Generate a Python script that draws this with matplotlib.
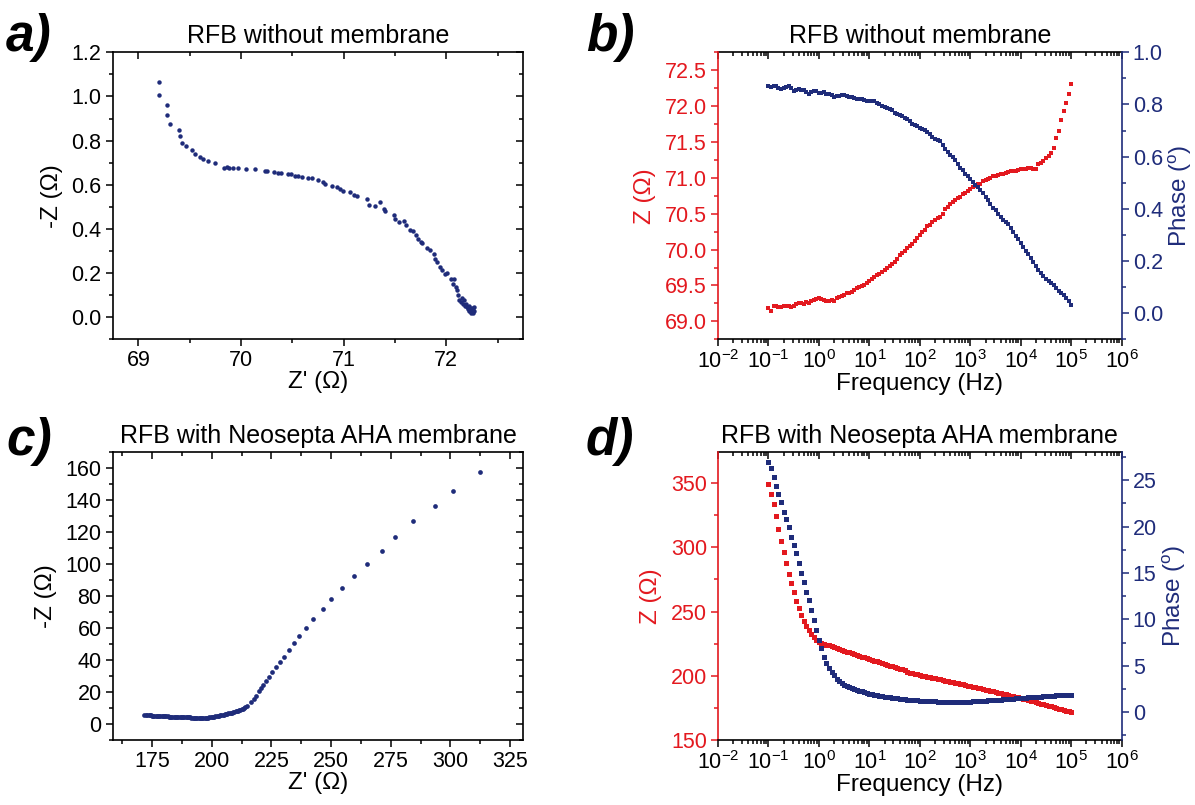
import numpy as np
import matplotlib
matplotlib.use('Agg')
import matplotlib.pyplot as plt
from matplotlib.ticker import MultipleLocator, LogLocator, NullFormatter

plt.rcParams['font.family'] = ['Liberation Sans', 'DejaVu Sans']
plt.rcParams['mathtext.fontset'] = 'custom'
plt.rcParams['mathtext.rm'] = 'Liberation Sans'
plt.rcParams['mathtext.it'] = 'Liberation Sans:italic'
plt.rcParams['mathtext.bf'] = 'Liberation Sans:bold'

# ---------------- data ----------------
# Panel a: Nyquist, RFB without membrane
A_ZRE = [69.200, 69.203, 69.275, 69.282, 69.311, 69.396, 69.403, 69.429, 69.468, 69.527,
         69.553, 69.599, 69.625, 69.674, 69.749, 69.837, 69.860, 69.880, 69.925, 69.968,
         70.050, 70.141, 70.229, 70.252, 70.318, 70.360, 70.393, 70.458, 70.491, 70.530,
         70.556, 70.599, 70.654, 70.687, 70.752, 70.795, 70.818, 70.883, 70.932, 70.965,
         70.997, 71.063, 71.102, 71.128, 71.226, 71.242, 71.308, 71.350, 71.390, 71.406,
         71.494, 71.504, 71.537, 71.586, 71.612, 71.651, 71.677, 71.700, 71.723, 71.749,
         71.765, 71.808, 71.841, 71.880, 71.886, 71.912, 71.939, 71.961, 71.984, 72.004,
         72.050, 72.076, 72.069, 72.092, 72.108, 72.115, 72.125,
         72.14, 72.16, 72.15, 72.17, 72.18, 72.19, 72.20, 72.21, 72.22, 72.22,
         72.23, 72.24, 72.24, 72.25, 72.26, 72.26, 72.27, 72.27]
A_ZIM = [1.064, 1.008, 0.961, 0.917, 0.876, 0.847, 0.820, 0.791, 0.775, 0.756,
         0.741, 0.725, 0.717, 0.708, 0.699, 0.675, 0.679, 0.675, 0.675, 0.675,
         0.672, 0.670, 0.664, 0.661, 0.659, 0.655, 0.655, 0.649, 0.647, 0.641,
         0.640, 0.634, 0.629, 0.629, 0.622, 0.611, 0.603, 0.596, 0.588, 0.579,
         0.573, 0.565, 0.555, 0.549, 0.535, 0.508, 0.505, 0.523, 0.488, 0.482,
         0.462, 0.447, 0.432, 0.437, 0.417, 0.397, 0.391, 0.372, 0.356, 0.341,
         0.334, 0.314, 0.306, 0.285, 0.265, 0.250, 0.228, 0.213, 0.194, 0.200,
         0.175, 0.175, 0.152, 0.137, 0.122, 0.099, 0.076,
         0.071, 0.060, 0.085, 0.080, 0.051, 0.062, 0.045, 0.036, 0.026, 0.050,
         0.030, 0.041, 0.021, 0.033, 0.018, 0.040, 0.045, 0.028]

# Frequencies of the impedance sweep (Hz)
FREQ_HZ = [
    0.100, 0.112, 0.126, 0.141, 0.158, 0.178, 0.200, 0.224, 0.251, 0.282,
    0.316, 0.355, 0.398, 0.447, 0.501, 0.562, 0.631, 0.708, 0.794, 0.891,
    1.00, 1.12, 1.26, 1.41, 1.58, 1.78, 2.00, 2.24, 2.51, 2.82,
    3.16, 3.55, 3.98, 4.47, 5.01, 5.62, 6.31, 7.08, 7.94, 8.91,
    10.0, 11.2, 12.6, 14.1, 15.8, 17.8, 20.0, 22.4, 25.1, 28.2,
    31.6, 35.5, 39.8, 44.7, 50.1, 56.2, 63.1, 70.8, 79.4, 89.1,
    100, 112, 126, 141, 158, 178, 200, 224, 251, 282,
    316, 355, 398, 447, 501, 562, 631, 708, 794, 891,
    1000, 1120, 1260, 1410, 1580, 1780, 2000, 2240, 2510, 2820,
    3160, 3550, 3980, 4470, 5010, 5620, 6310, 7080, 7940, 8910,
    10000, 11200, 12600, 14100, 15800, 17800, 20000, 22400, 25100, 28200,
    31600, 35500, 39800, 44700, 50100, 56200, 63100, 70800, 79400, 89100,
    100000]

# Panel b: Bode, RFB without membrane
B_Z = [69.18, 69.15, 69.22, 69.21, 69.20, 69.20, 69.21, 69.22, 69.21, 69.20,
       69.22, 69.24, 69.25, 69.25, 69.24, 69.27, 69.26, 69.29, 69.30, 69.31,
       69.33, 69.31, 69.30, 69.29, 69.28, 69.30, 69.29, 69.32, 69.34, 69.36,
       69.37, 69.39, 69.40, 69.41, 69.44, 69.46, 69.48, 69.49, 69.51, 69.53,
       69.56, 69.59, 69.62, 69.64, 69.66, 69.69, 69.71, 69.74, 69.77,
       69.80, 69.83, 69.87, 69.92, 69.95, 69.98, 70.02, 70.05, 70.08, 70.12, 70.16,
       70.21, 70.25, 70.28, 70.33, 70.35, 70.38, 70.41, 70.44, 70.46, 70.50,
       70.56, 70.60, 70.64, 70.67, 70.69, 70.72, 70.74, 70.77, 70.79, 70.82,
       70.84, 70.87, 70.89, 70.91, 70.92, 70.95, 70.97, 70.98, 71.00, 71.02,
       71.03, 71.04, 71.05, 71.06, 71.07, 71.08, 71.09, 71.10, 71.10, 71.11,
       71.12, 71.13, 71.13, 71.14, 71.14, 71.12, 71.12, 71.19, 71.21, 71.24,
       71.27, 71.30, 71.35, 71.42, 71.55, 71.66, 71.80, 71.93, 72.05, 72.17,
       72.31]
B_PHASE = [0.871, 0.868, 0.869, 0.872, 0.864, 0.858, 0.862, 0.866, 0.870, 0.862,
           0.851, 0.856, 0.858, 0.855, 0.856, 0.846, 0.842, 0.847, 0.853, 0.850,
           0.845, 0.843, 0.847, 0.841, 0.840, 0.837, 0.830, 0.832, 0.834, 0.836,
           0.838, 0.834, 0.830, 0.829, 0.824, 0.822, 0.822, 0.820, 0.816, 0.815,
           0.812, 0.813, 0.815, 0.807, 0.802, 0.795, 0.791, 0.787, 0.782, 0.777,
           0.769, 0.765, 0.761, 0.757, 0.750, 0.744, 0.736, 0.727, 0.720, 0.716,
           0.711, 0.706, 0.701, 0.696, 0.686, 0.674, 0.666, 0.663, 0.659, 0.645,
           0.630, 0.619, 0.608, 0.597, 0.586, 0.573, 0.558, 0.547, 0.535, 0.524,
           0.513, 0.502, 0.492, 0.483, 0.474, 0.460, 0.446, 0.433, 0.419, 0.405,
           0.394, 0.382, 0.370, 0.359, 0.349, 0.341, 0.326, 0.312, 0.297, 0.283,
           0.268, 0.253, 0.240, 0.228, 0.211, 0.195, 0.180, 0.165, 0.153, 0.142,
           0.131, 0.122, 0.115, 0.107, 0.096, 0.085, 0.076, 0.068, 0.058, 0.046,
           0.030]

# Panel c: Nyquist, RFB with Neosepta AHA membrane
C_ZRE = [171.5, 172.5, 173, 173.5, 174, 174.5, 175, 175.5, 176, 176.5, 177, 177.5,
         178, 178.5, 179, 179.5, 180, 180.5, 181, 181.5, 182, 182.5, 183, 183.5,
         184, 184.5, 185, 185.5, 186, 186.5, 187, 187.5, 188, 188.5, 189, 189.5,
         190, 190.5, 191, 191.5, 192, 192.5, 193, 193.5, 194, 194.5, 195, 195.5,
         196, 196.5, 197, 197.5, 198, 198.5, 199, 199.5, 200, 200.5, 201, 201.5,
         202, 202.5, 203, 203.5, 204, 204.5, 205, 205.5, 206, 206.5, 207, 207.5,
         208, 208.5, 209, 209.5, 210, 210.5, 211, 211.5, 212, 212.5, 213, 213.5,
         214, 214.9, 216.3, 217.5, 218.5, 219.6, 220.6, 221.6,
         222.8, 224.1, 225.4, 226.8, 228.5, 230.3, 232.3, 234.3, 236.7, 239.5,
         242.3, 246.5, 249.8, 254.5, 259.7, 265.1, 271.2, 276.9, 284.5, 293.6,
         300.9, 312.5]
C_ZIM = [5.6, 5.55, 5.5, 5.45, 5.4, 5.35, 5.3, 5.25, 5.2, 5.15, 5.1, 5.05,
         5.0, 5.0, 5.0, 4.95, 4.9, 4.85, 4.8, 4.75, 4.7, 4.65, 4.6, 4.6,
         4.6, 4.55, 4.5, 4.45, 4.4, 4.35, 4.3, 4.3, 4.3, 4.25, 4.2, 4.15,
         4.1, 4.1, 4.1, 4.05, 4.0, 4.0, 4.0, 4.0, 4.0, 3.95, 3.9, 3.9,
         3.9, 3.9, 3.9, 3.95, 4.0, 4.05, 4.1, 4.2, 4.3, 4.45, 4.6, 4.75,
         4.9, 5.05, 5.2, 5.35, 5.5, 5.65, 5.8, 6.0, 6.2, 6.4, 6.6, 6.8,
         7.0, 7.2, 7.4, 7.65, 7.9, 8.15, 8.4, 8.7, 9.0, 9.3, 9.6, 10.0,
         10.4, 11.5, 13.6, 15.6, 17.7, 20.4, 22.5, 24.6,
         27.1, 29.6, 32.3, 35.5, 38.6, 42.1, 46.3, 50.5, 54.9, 60.1,
         65.7, 72.0, 78.2, 84.9, 92.4, 100.1, 108.5, 116.8, 126.8, 136.4,
         146.0, 157.5]

# Panel d: Bode, RFB with Neosepta AHA membrane
D_Z = [349.2, 341.4, 333.6, 324.5, 314.5, 305.0, 296.0, 287.5, 279.5, 272.0,
       265.0, 258.5, 252.5, 247.5, 243.0, 239.0, 235.5, 232.5, 230.0, 228.0,
       226.5,
       225.7, 225.0, 224.3, 223.6, 222.9, 222.2, 221.5, 220.9, 220.2, 219.5,
       218.9, 218.2, 217.6, 216.9, 216.3, 215.6, 215.0, 214.3, 213.7, 213.0,
       212.4, 211.8, 211.2, 210.5, 209.9, 209.3, 208.7, 208.0, 207.4, 206.8,
       206.2, 205.6, 204.9, 204.3, 202.6, 202.2, 201.8, 201.4, 201.0, 200.6,
       200.2, 199.7, 199.3, 198.9, 198.5, 198.0, 197.6, 197.2, 196.7, 196.3,
       195.9, 195.4, 195.0, 194.6, 194.2, 193.7, 193.3, 192.9, 192.4, 192.0,
       191.5, 191.1, 190.6, 190.2, 189.7, 189.2, 188.8, 188.3, 187.9, 187.4,
       186.9, 186.4, 186.0, 185.5, 185.0, 184.5, 184.0, 183.6, 183.1, 182.6,
       182.1, 181.6, 181.0, 180.5, 180.0, 179.5, 179.0, 178.4, 177.9, 177.4,
       176.8, 176.2, 175.7, 175.1, 174.5, 173.9, 173.3, 172.8, 172.2, 171.6]
D_PHASE = [26.97, 26.26, 25.29, 24.35, 23.46, 22.67, 21.59, 20.77, 19.91, 18.90,
           18.01, 17.11, 16.03, 15.03, 14.06, 12.98, 12.09, 11.01, 9.94, 8.86,
           7.78,
           6.89, 5.99, 5.35, 4.80, 4.35, 3.95, 3.62, 3.35, 3.12, 2.95,
           2.82, 2.71, 2.60, 2.50, 2.41, 2.33, 2.25, 2.16, 2.08, 2.01,
           1.95, 1.89, 1.83, 1.78, 1.73, 1.68, 1.64, 1.60, 1.56, 1.52,
           1.49, 1.45, 1.42, 1.39, 1.36, 1.33, 1.31, 1.29, 1.27, 1.25,
           1.23, 1.21, 1.19, 1.17, 1.16, 1.15, 1.14, 1.13, 1.12, 1.11,
           1.11, 1.10, 1.10, 1.10, 1.10, 1.11, 1.11, 1.12, 1.13, 1.14,
           1.15, 1.17, 1.18, 1.20, 1.22, 1.24, 1.26, 1.28, 1.30, 1.32,
           1.34, 1.36, 1.38, 1.40, 1.42, 1.44, 1.46, 1.48, 1.50, 1.52,
           1.54, 1.56, 1.58, 1.60, 1.62, 1.64, 1.66, 1.68, 1.70, 1.72,
           1.74, 1.76, 1.78, 1.80, 1.82, 1.84, 1.86, 1.88, 1.89, 1.90]

TITLE_AB = 'RFB without membrane'
TITLE_CD = 'RFB with Neosepta AHA membrane'

# ---------------- style ----------------
RED = '#e3191f'
NAVY = '#1f2c7a'
TICK_FS = 15.5
LABEL_FS = 17.5
TITLE_FS = 18
SPINE_W = 1.2

W, H = 1195, 805
fig = plt.figure(figsize=(W / 100, H / 100), dpi=100)


def rect(l, t, r, b):
    return [l / W, 1 - b / H, (r - l) / W, (b - t) / H]


def base_style(ax):
    for s in ax.spines.values():
        s.set_linewidth(SPINE_W)
    ax.tick_params(which='both', direction='out', top=False, right=False,
                   labelsize=TICK_FS, width=1.1, pad=3)
    ax.tick_params(which='major', length=5)
    ax.tick_params(which='minor', length=3)


def mirror_x(ax, major, minor, log=False):
    sec = ax.secondary_xaxis('top')
    sec.spines['top'].set_linewidth(SPINE_W)
    if log:
        sec.xaxis.set_major_locator(LogLocator(base=10, numticks=20))
        sec.xaxis.set_minor_locator(LogLocator(base=10, subs=np.arange(2, 10), numticks=20))
    else:
        sec.xaxis.set_major_locator(MultipleLocator(major))
        sec.xaxis.set_minor_locator(MultipleLocator(minor))
    sec.xaxis.set_minor_formatter(NullFormatter())
    sec.tick_params(which='both', direction='in', labeltop=False, width=1.1)
    sec.tick_params(which='major', length=5)
    sec.tick_params(which='minor', length=3)


def mirror_y(ax, major, minor):
    sec = ax.secondary_yaxis('right')
    sec.spines['right'].set_linewidth(SPINE_W)
    sec.yaxis.set_major_locator(MultipleLocator(major))
    sec.yaxis.set_minor_locator(MultipleLocator(minor))
    sec.tick_params(which='both', direction='in', labelright=False, width=1.1)
    sec.tick_params(which='major', length=5)
    sec.tick_params(which='minor', length=3)


def nyquist(ax, zre, zim, xlim, ylim, xmaj, xmin, ymaj, ymin, yfmt, title, ms):
    ax.plot(zre, zim, 'o', ms=ms, color=NAVY, mew=0, clip_on=False)
    ax.set_xlim(*xlim)
    ax.set_ylim(*ylim)
    base_style(ax)
    ax.xaxis.set_major_locator(MultipleLocator(xmaj))
    ax.xaxis.set_minor_locator(MultipleLocator(xmin))
    ax.yaxis.set_major_locator(MultipleLocator(ymaj))
    ax.yaxis.set_minor_locator(MultipleLocator(ymin))
    if yfmt:
        ax.yaxis.set_major_formatter(plt.FormatStrFormatter(yfmt))
    ax.spines['top'].set_visible(False)
    ax.spines['right'].set_visible(False)
    mirror_x(ax, xmaj, xmin)
    mirror_y(ax, ymaj, ymin)
    ax.set_xlabel("Z' (\u03a9)", fontsize=LABEL_FS, labelpad=0)
    ax.set_ylabel("-Z (\u03a9)", fontsize=LABEL_FS, labelpad=6)
    ax.set_title(title, fontsize=TITLE_FS, pad=7)


def bode(ax, freq, z, ph, zlim, zmaj, zmin, zfmt, plim, pmaj, pmin, pfmt, title, ms):
    tw = ax.twinx()
    ax.plot(freq, z, 's', ms=ms, color=RED, mew=0, zorder=3)
    tw.plot(freq, ph, 's', ms=ms, color=NAVY, mew=0, zorder=3)
    ax.set_xscale('log')
    ax.set_xlim(1e-2, 1e6)
    ax.set_ylim(*zlim)
    tw.set_ylim(*plim)
    base_style(ax)
    ax.xaxis.set_major_locator(LogLocator(base=10, numticks=20))
    ax.xaxis.set_minor_locator(LogLocator(base=10, subs=np.arange(2, 10), numticks=20))
    ax.xaxis.set_minor_formatter(NullFormatter())
    ax.yaxis.set_major_locator(MultipleLocator(zmaj))
    ax.yaxis.set_minor_locator(MultipleLocator(zmin))
    ax.yaxis.set_major_formatter(plt.FormatStrFormatter(zfmt))
    ax.tick_params(axis='y', which='both', colors=RED)
    ax.spines['left'].set_color(RED)
    ax.spines['top'].set_visible(False)
    ax.spines['right'].set_visible(False)
    mirror_x(ax, None, None, log=True)

    for s in ['left', 'top', 'bottom']:
        tw.spines[s].set_visible(False)
    tw.spines['right'].set_color(NAVY)
    tw.spines['right'].set_linewidth(SPINE_W)
    tw.yaxis.set_major_locator(MultipleLocator(pmaj))
    tw.yaxis.set_minor_locator(MultipleLocator(pmin))
    tw.yaxis.set_major_formatter(plt.FormatStrFormatter(pfmt))
    tw.tick_params(axis='y', which='both', direction='out', colors=NAVY,
                   labelsize=TICK_FS, width=1.1, pad=3)
    tw.tick_params(axis='y', which='major', length=5)
    tw.tick_params(axis='y', which='minor', length=3)

    ax.set_xlabel('Frequency (Hz)', fontsize=LABEL_FS, labelpad=0)
    ax.set_ylabel('Z (\u03a9)', fontsize=LABEL_FS, color=RED, labelpad=6)
    tw.set_ylabel(r'Phase ($^{\mathrm{o}}$)', fontsize=LABEL_FS, color=NAVY, labelpad=3)
    ax.set_title(title, fontsize=TITLE_FS, pad=7)


ax_a = fig.add_axes(rect(112.7, 52.3, 523.3, 339.3))
nyquist(ax_a, A_ZRE, A_ZIM, (68.75, 72.75), (-0.1, 1.2), 1, 0.5, 0.2, 0.1, '%.1f',
        TITLE_AB, 3.2)

ax_b = fig.add_axes(rect(718, 52.3, 1121.7, 339.3))
bode(ax_b, FREQ_HZ, B_Z, B_PHASE, (68.75, 72.75), 0.5, 0.25, '%.1f',
     (-0.1, 1.0), 0.2, 0.1, '%.1f', TITLE_AB, 2.6)

ax_c = fig.add_axes(rect(112.7, 452.3, 523.3, 740))
nyquist(ax_c, C_ZRE, C_ZIM, (158.5, 330.5), (-10, 170), 25, 12.5, 20, 10, None,
        TITLE_CD, 3.4)

ax_d = fig.add_axes(rect(718, 452.3, 1121.7, 740))
bode(ax_d, FREQ_HZ, D_Z, D_PHASE, (150, 374), 50, 25, '%d',
     (-3, 28), 5, 2.5, '%d', TITLE_CD, 3.6)

LETTER_KW = dict(fontsize=37, fontweight='bold', fontstyle='italic', ha='left', va='center')
fig.text(6 / W, 1 - 38 / H, 'a)', **LETTER_KW)
fig.text(586 / W, 1 - 38 / H, 'b)', **LETTER_KW)
fig.text(6 / W, 1 - 441 / H, 'c)', **LETTER_KW)
fig.text(586 / W, 1 - 441 / H, 'd)', **LETTER_KW)

fig.savefig('out.png', dpi=100)
